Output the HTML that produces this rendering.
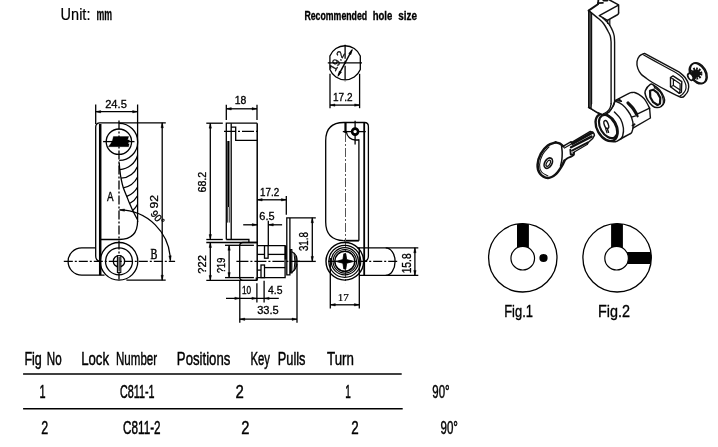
<!DOCTYPE html>
<html><head><meta charset="utf-8"><title>Cam lock C811 drawing</title>
<style>
html,body{margin:0;padding:0;background:#fff;}
body{width:718px;height:447px;overflow:hidden;font-family:"Liberation Sans",sans-serif;}
svg{display:block;will-change:transform;opacity:0.999;}
</style></head><body>
<svg width="718" height="447" viewBox="0 0 718 447" stroke="#000" fill="none" stroke-linecap="butt">
<rect x="0" y="0" width="718" height="447" fill="#fff" stroke="none"/>
<text transform="translate(61.70 20.10) rotate(0) scale(0.8852 1)" x="-1.23" y="0" font-size="16.38" font-family='"Liberation Sans", sans-serif' stroke="#000" stroke-width="0.2" vector-effect="non-scaling-stroke" fill="#000">Unit:</text>
<text transform="translate(97.00 20.10) rotate(0) scale(0.5455 1)" x="-1.05" y="0" font-size="16.11" font-family='"Liberation Sans", sans-serif' font-weight="bold" stroke="#000" stroke-width="0.25" vector-effect="non-scaling-stroke" fill="#000">mm</text>
<text transform="translate(305.00 20.30) rotate(0) scale(0.6635 1)" x="-0.86" y="0" font-size="13.19" font-family='"Liberation Sans", sans-serif' font-weight="bold" stroke="#000" stroke-width="0.3" vector-effect="non-scaling-stroke" fill="#000">Recommended</text>
<text transform="translate(373.30 20.30) rotate(0) scale(0.7232 1)" x="-0.92" y="0" font-size="13.19" font-family='"Liberation Sans", sans-serif' font-weight="bold" stroke="#000" stroke-width="0.3" vector-effect="non-scaling-stroke" fill="#000">hole</text>
<text transform="translate(398.60 20.30) rotate(0) scale(0.7541 1)" x="-0.46" y="0" font-size="13.19" font-family='"Liberation Sans", sans-serif' font-weight="bold" stroke="#000" stroke-width="0.3" vector-effect="non-scaling-stroke" fill="#000">size</text>
<text transform="translate(105.70 107.50) rotate(0) scale(0.9644 1)" x="-0.58" y="0" font-size="11.57" font-family='"Liberation Sans", sans-serif' stroke="#000" stroke-width="0.3" vector-effect="non-scaling-stroke" fill="#000">24.5</text>
<line x1="95.7" y1="104.5" x2="95.7" y2="124" stroke-width="1.3" />
<line x1="137.6" y1="104.5" x2="137.6" y2="222" stroke-width="1.3" />
<line x1="95.7" y1="111.7" x2="137.6" y2="111.7" stroke-width="1.3" />
<polygon points="95.70,111.70 100.70,110.50 100.70,112.90" fill="#000" stroke="#000" stroke-width="0.4"/>
<polygon points="137.60,111.70 132.60,112.90 132.60,110.50" fill="#000" stroke="#000" stroke-width="0.4"/>
<path d="M95.7 256 L95.7 127 Q95.7 122.8 100 122.8 L165.8 122.8" stroke-width="1.3" fill="none" />
<path d="M95.7 256 Q95.7 261 100.3 261.3" stroke-width="1.3" fill="none" />
<line x1="100.2" y1="124" x2="100.2" y2="275.2" stroke-width="2.5" />
<path d="M119.2 123.4 A18.4 18.4 0 0 1 119.2 160.4" stroke-width="1.3" fill="none" />
<path d="M101 239.5 L119.2 239.5 Q137.6 239.5 137.6 221" stroke-width="1.3" fill="none" />
<circle cx="118.9" cy="141.7" r="12.7" stroke-width="1.3" fill="none" />
<line x1="103.1" y1="141.6" x2="134.5" y2="141.6" stroke-width="1.3" />
<line x1="119" y1="120.5" x2="119" y2="281.5" stroke-width="1.3" stroke-dasharray="9 2 2 2"/>
<path d="M113.4 136.5 L128.7 136.5 L127.6 140 L129.6 140 L127.9 143.8 L129.2 143.8 L128.6 146.7 L108.4 146.7 L110.8 143.6 L112.4 140.5 Z" stroke-width="0.3" fill="#000" />
<path d="M119.2 163.0 C119.3 164.1 119.5 167.1 119.8 169.6 C120.1 172.1 120.4 175.2 121.0 178.2 C121.6 181.2 122.3 184.8 123.3 187.8 C124.3 190.8 125.8 193.8 126.8 196.4 C127.8 199.0 128.6 201.2 129.6 203.5 C130.6 205.8 131.8 208.6 132.7 210.5 C133.6 212.4 134.2 213.4 135.0 215.0 C135.8 216.6 137.2 219.2 137.6 220.0" stroke-width="1.3" fill="none" />
<path d="M119.8 169.6 A20 20 0 0 0 137.6 155.5" stroke-width="1.3" fill="none" />
<path d="M121 178.2 A20 20 0 0 0 137.6 166.4" stroke-width="1.3" fill="none" />
<path d="M123.3 187.8 A20 20 0 0 0 137.6 177" stroke-width="1.3" fill="none" />
<path d="M126.8 196.4 A20 20 0 0 0 137.6 187" stroke-width="1.3" fill="none" />
<path d="M129.6 203.5 A20 20 0 0 0 137.6 195.7" stroke-width="1.3" fill="none" />
<path d="M132.7 210.5 A20 20 0 0 0 137.6 204.3" stroke-width="1.3" fill="none" />
<text transform="translate(107.00 200.70) rotate(0) scale(0.7722 1)" x="-0.06" y="0" font-size="12.75" font-family='"Liberation Sans", sans-serif' stroke="#000" stroke-width="0.3" vector-effect="non-scaling-stroke" fill="#000">A</text>
<path d="M119.5 209.9 A51.4 51.4 0 0 1 170.4 260.5" stroke-width="1.3" fill="none" />
<polygon points="119.50,209.90 124.56,208.96 124.43,211.36" fill="#000" stroke="#000" stroke-width="0.4"/>
<polygon points="170.40,260.80 168.85,255.90 171.25,255.73" fill="#000" stroke="#000" stroke-width="0.4"/>
<circle cx="119" cy="261.3" r="18.8" stroke-width="1.3" fill="none" />
<circle cx="119" cy="261.3" r="13.5" stroke-width="1.3" fill="none" />
<circle cx="119" cy="261.3" r="5.7" stroke-width="1.3" fill="none" />
<rect x="117.4" y="255.7" width="3.4" height="16.9" fill="#fff" stroke="#000" stroke-width="1.1"/>
<line x1="119.1" y1="257" x2="119.1" y2="271.5" stroke-width="1.2" />
<path d="M95.7 247.9 L81.7 247.9 A13.6 13.6 0 0 0 81.7 275.1 L104.5 275.1" stroke-width="1.3" fill="none" />
<line x1="63.8" y1="261.3" x2="175.1" y2="261.3" stroke-width="1.3" stroke-dasharray="9 2 2 2"/>
<text transform="translate(150.90 258.80) rotate(0) scale(0.7054 1)" x="-0.44" y="0" font-size="14.66" font-family='"Liberation Serif", serif' stroke="#000" stroke-width="0.4" vector-effect="non-scaling-stroke" fill="#000">B</text>
<line x1="162.2" y1="122.8" x2="162.2" y2="280.2" stroke-width="1.3" />
<polygon points="162.20,122.80 163.40,127.80 161.00,127.80" fill="#000" stroke="#000" stroke-width="0.4"/>
<polygon points="162.20,280.20 161.00,275.20 163.40,275.20" fill="#000" stroke="#000" stroke-width="0.4"/>
<line x1="126.4" y1="280.2" x2="165.7" y2="280.2" stroke-width="1.3" />
<text transform="translate(157.90 208.00) rotate(-90) scale(1.0473 1)" x="-0.52" y="0" font-size="11.57" font-family='"Liberation Sans", sans-serif' stroke="#000" stroke-width="0.3" vector-effect="non-scaling-stroke" fill="#000">92</text>
<text transform="translate(150.30 214.40) rotate(50) scale(0.9555 1)" x="-0.47" y="0" font-size="10.43" font-family='"Liberation Sans", sans-serif' stroke="#000" stroke-width="0.3" vector-effect="non-scaling-stroke" fill="#000">90°</text>
<text transform="translate(235.40 103.80) rotate(0) scale(1.0023 1)" x="-0.78" y="0" font-size="10.43" font-family='"Liberation Sans", sans-serif' stroke="#000" stroke-width="0.3" vector-effect="non-scaling-stroke" fill="#000">18</text>
<line x1="226.3" y1="104.8" x2="226.3" y2="120" stroke-width="1.3" />
<line x1="257" y1="104.8" x2="257" y2="120" stroke-width="1.3" />
<line x1="226.3" y1="108.8" x2="257" y2="108.8" stroke-width="1.3" />
<polygon points="226.30,108.80 231.30,107.60 231.30,110.00" fill="#000" stroke="#000" stroke-width="0.4"/>
<polygon points="257.00,108.80 252.00,110.00 252.00,107.60" fill="#000" stroke="#000" stroke-width="0.4"/>
<path d="M226.3 239.5 L226.3 123.2 L257.2 123.2" stroke-width="1.3" fill="none" />
<line x1="257.2" y1="123.2" x2="257.2" y2="280.4" stroke-width="1.5" />
<line x1="231.2" y1="123.2" x2="231.2" y2="239.5" stroke-width="1.3" />
<path d="M231.2 127.2 L235.7 127.2 L235.7 140.4 L257.2 140.4" stroke-width="1.3" fill="none" />
<line x1="224" y1="131.4" x2="259.2" y2="131.4" stroke-width="1.3" stroke-dasharray="12 2 2 2"/>
<line x1="228.4" y1="141" x2="228.4" y2="207" stroke-width="2.2" />
<line x1="227.6" y1="207" x2="227.6" y2="222.6" stroke-width="0.8" />
<line x1="229.3" y1="207" x2="229.3" y2="222.6" stroke-width="0.8" />
<path d="M226.3 239.5 L248.9 239.5 L248.9 242.5" stroke-width="1.3" fill="none" />
<line x1="206.3" y1="123.2" x2="222.8" y2="123.2" stroke-width="1.3" />
<line x1="206.3" y1="239.5" x2="222.8" y2="239.5" stroke-width="1.3" />
<line x1="210.3" y1="123.2" x2="210.3" y2="239.5" stroke-width="1.3" />
<polygon points="210.30,123.20 211.50,128.20 209.10,128.20" fill="#000" stroke="#000" stroke-width="0.4"/>
<polygon points="210.30,239.50 209.10,234.50 211.50,234.50" fill="#000" stroke="#000" stroke-width="0.4"/>
<text transform="translate(206.00 192.00) rotate(-90) scale(0.9461 1)" x="-0.56" y="0" font-size="11.29" font-family='"Liberation Sans", sans-serif' stroke="#000" stroke-width="0.3" vector-effect="non-scaling-stroke" fill="#000">68.2</text>
<line x1="206.3" y1="242.5" x2="257.2" y2="242.5" stroke-width="1.3" />
<line x1="206.3" y1="280.4" x2="257.2" y2="280.4" stroke-width="1.3" />
<line x1="210.3" y1="242.5" x2="210.3" y2="280.4" stroke-width="1.3" />
<polygon points="210.30,242.50 211.50,247.50 209.10,247.50" fill="#000" stroke="#000" stroke-width="0.4"/>
<polygon points="210.30,280.40 209.10,275.40 211.50,275.40" fill="#000" stroke="#000" stroke-width="0.4"/>
<text transform="translate(206.00 273.20) rotate(-90) scale(0.9845 1)" x="-0.45" y="0" font-size="11.29" font-family='"Liberation Sans", sans-serif' stroke="#000" stroke-width="0.3" vector-effect="non-scaling-stroke" fill="#000">?22</text>
<line x1="225" y1="245.3" x2="253.9" y2="245.3" stroke-width="1.3" />
<line x1="225" y1="277.6" x2="253.9" y2="277.6" stroke-width="1.3" />
<line x1="229.1" y1="245.3" x2="229.1" y2="277.6" stroke-width="1.3" />
<polygon points="229.10,245.30 230.30,250.30 227.90,250.30" fill="#000" stroke="#000" stroke-width="0.4"/>
<polygon points="229.10,277.60 227.90,272.60 230.30,272.60" fill="#000" stroke="#000" stroke-width="0.4"/>
<text transform="translate(225.00 272.60) rotate(-90) scale(0.7876 1)" x="-0.46" y="0" font-size="11.57" font-family='"Liberation Sans", sans-serif' stroke="#000" stroke-width="0.3" vector-effect="non-scaling-stroke" fill="#000">?19</text>
<path d="M257.2 242.5 L243 242.5 Q239.7 242.5 239.7 246 L239.7 277 Q239.7 280.4 243 280.4 L256.3 280.4 L256.3 277.6" stroke-width="1.3" fill="none" />
<line x1="236.4" y1="261.3" x2="300" y2="261.3" stroke-width="1.3" stroke-dasharray="12 2 2 2"/>
<path d="M257.2 245.7 L285.1 245.7 L285.1 277.6 L257.2 277.6" stroke-width="1.3" fill="none" />
<line x1="285.7" y1="245.7" x2="285.7" y2="259.5" stroke-width="2.0" />
<line x1="257.2" y1="254.4" x2="264.5" y2="254.4" stroke-width="1.3" />
<rect x="264.5" y="245.7" width="3.6" height="12.5" fill="#fff" stroke="#000" stroke-width="1.3"/>
<line x1="268" y1="254.4" x2="285.1" y2="254.4" stroke-width="1.3" />
<line x1="264.5" y1="267.6" x2="285.1" y2="267.6" stroke-width="1.3" />
<rect x="261" y="265" width="3.5" height="12.6" fill="#fff" stroke="#000" stroke-width="1.3"/>
<line x1="257.2" y1="270.1" x2="261" y2="270.1" stroke-width="1.3" />
<text transform="translate(260.80 195.70) rotate(0) scale(0.9562 1)" x="-0.77" y="0" font-size="10.29" font-family='"Liberation Sans", sans-serif' stroke="#000" stroke-width="0.3" vector-effect="non-scaling-stroke" fill="#000">17.2</text>
<line x1="257.2" y1="199.8" x2="286.3" y2="199.8" stroke-width="1.3" />
<polygon points="257.20,199.80 262.20,198.60 262.20,201.00" fill="#000" stroke="#000" stroke-width="0.4"/>
<polygon points="286.30,199.80 281.30,201.00 281.30,198.60" fill="#000" stroke="#000" stroke-width="0.4"/>
<line x1="286.3" y1="196" x2="286.3" y2="214.8" stroke-width="1.3" />
<text transform="translate(259.90 220.30) rotate(0) scale(1.0845 1)" x="-0.51" y="0" font-size="10.14" font-family='"Liberation Sans", sans-serif' stroke="#000" stroke-width="0.3" vector-effect="non-scaling-stroke" fill="#000">6.5</text>
<line x1="243.2" y1="224.8" x2="257.2" y2="224.8" stroke-width="1.3" />
<polygon points="257.20,224.80 252.20,226.00 252.20,223.60" fill="#000" stroke="#000" stroke-width="0.4"/>
<line x1="268.3" y1="224.8" x2="282.1" y2="224.8" stroke-width="1.3" />
<polygon points="268.30,224.80 273.30,223.60 273.30,226.00" fill="#000" stroke="#000" stroke-width="0.4"/>
<line x1="268.3" y1="220.7" x2="268.3" y2="245.7" stroke-width="1.3" />
<path d="M315.8 217.8 L286.8 217.8 L286.8 274.8 L289.9 274.8 L289.9 217.8" stroke-width="1.3" fill="none" />
<line x1="312.3" y1="217.8" x2="312.3" y2="261.4" stroke-width="1.3" />
<polygon points="312.30,217.80 313.50,222.80 311.10,222.80" fill="#000" stroke="#000" stroke-width="0.4"/>
<polygon points="312.30,261.40 311.10,256.40 313.50,256.40" fill="#000" stroke="#000" stroke-width="0.4"/>
<text transform="translate(308.30 250.70) rotate(-90) scale(0.8132 1)" x="-0.48" y="0" font-size="12.00" font-family='"Liberation Sans", sans-serif' stroke="#000" stroke-width="0.3" vector-effect="non-scaling-stroke" fill="#000">31.8</text>
<line x1="297" y1="261.4" x2="315.8" y2="261.4" stroke-width="1.3" />
<path d="M289.9 249.5 L291.8 249.5 L291.8 273 L289.9 273" stroke-width="1.2" fill="none" />
<line x1="290.6" y1="249.5" x2="290.6" y2="273" stroke-width="1.4" />
<path d="M291.8 251.8 Q295.5 253.5 296.6 257 Q297.6 261.3 296.6 266 Q295.5 269.5 291.8 272.5" stroke-width="1.2" fill="none" />
<path d="M294 252.6 Q295.8 261.5 294 270.6" stroke-width="1.0" fill="none" />
<path d="M296 256 L296 267" stroke-width="1.4" fill="none" />
<line x1="239.8" y1="280.4" x2="239.8" y2="322.8" stroke-width="1.3" />
<line x1="297" y1="263.8" x2="297" y2="322.8" stroke-width="1.3" />
<line x1="226" y1="298.4" x2="278.8" y2="298.4" stroke-width="1.3" />
<polygon points="239.80,298.40 234.80,299.60 234.80,297.20" fill="#000" stroke="#000" stroke-width="0.4"/>
<polygon points="256.90,298.40 251.90,299.60 251.90,297.20" fill="#000" stroke="#000" stroke-width="0.4"/>
<polygon points="264.10,298.40 269.10,297.20 269.10,299.60" fill="#000" stroke="#000" stroke-width="0.4"/>
<line x1="256.9" y1="283.2" x2="256.9" y2="302.6" stroke-width="1.3" />
<line x1="264.1" y1="280.7" x2="264.1" y2="302.6" stroke-width="1.3" />
<text transform="translate(242.50 293.80) rotate(0) scale(0.7692 1)" x="-0.80" y="0" font-size="10.71" font-family='"Liberation Sans", sans-serif' stroke="#000" stroke-width="0.3" vector-effect="non-scaling-stroke" fill="#000">10</text>
<text transform="translate(268.20 293.80) rotate(0) scale(0.9582 1)" x="-0.27" y="0" font-size="10.87" font-family='"Liberation Sans", sans-serif' stroke="#000" stroke-width="0.3" vector-effect="non-scaling-stroke" fill="#000">4.5</text>
<line x1="239.8" y1="319.2" x2="297" y2="319.2" stroke-width="1.3" />
<polygon points="239.80,319.20 244.80,318.00 244.80,320.40" fill="#000" stroke="#000" stroke-width="0.4"/>
<polygon points="297.00,319.20 292.00,320.40 292.00,318.00" fill="#000" stroke="#000" stroke-width="0.4"/>
<text transform="translate(257.60 314.40) rotate(0) scale(1.0943 1)" x="-0.41" y="0" font-size="10.14" font-family='"Liberation Sans", sans-serif' stroke="#000" stroke-width="0.3" vector-effect="non-scaling-stroke" fill="#000">33.5</text>
<path d="M329.9 56 A16.4 16.4 0 0 1 360.3 56 L360.3 69.6 A16.4 16.4 0 0 1 329.9 69.6 Z" stroke-width="1.3" fill="none" />
<line x1="327.8" y1="62.8" x2="362" y2="62.8" stroke-width="1.3" />
<line x1="345.1" y1="44.8" x2="345.1" y2="82" stroke-width="1.3" stroke-dasharray="14 2 3 2"/>
<line x1="352" y1="50" x2="338.2" y2="75.7" stroke-width="1.5" />
<polygon points="352.40,49.20 350.95,54.66 348.66,53.43" fill="#000" stroke="#000" stroke-width="0.4"/>
<polygon points="337.80,76.50 339.25,71.04 341.54,72.27" fill="#000" stroke="#000" stroke-width="0.4"/>
<text transform="translate(335.60 71.20) rotate(-61.8) scale(1.0000 1)" x="-0.80" y="0" font-size="10.71" font-family='"Liberation Sans", sans-serif' stroke="#000" stroke-width="0.3" vector-effect="non-scaling-stroke" fill="#000">19.2</text>
<line x1="330" y1="73.8" x2="330" y2="108.2" stroke-width="1.3" />
<line x1="359.6" y1="73.8" x2="359.6" y2="108.2" stroke-width="1.3" />
<line x1="330" y1="105.1" x2="359.6" y2="105.1" stroke-width="1.3" />
<polygon points="330.00,105.10 335.00,103.90 335.00,106.30" fill="#000" stroke="#000" stroke-width="0.4"/>
<polygon points="359.60,105.10 354.60,106.30 354.60,103.90" fill="#000" stroke="#000" stroke-width="0.4"/>
<text transform="translate(333.80 100.70) rotate(0) scale(0.9333 1)" x="-0.80" y="0" font-size="10.71" font-family='"Liberation Sans", sans-serif' stroke="#000" stroke-width="0.3" vector-effect="non-scaling-stroke" fill="#000">17.2</text>
<path d="M343.8 240.7 Q325.7 240 325.7 222 L325.7 140.7 Q325.7 122.5 343.8 122.5 L364.5 122.5 Q368.4 122.5 368.4 126.5 L368.4 256 Q368.4 261 364 261.3" stroke-width="1.3" fill="none" />
<line x1="364.2" y1="123" x2="364.2" y2="275.4" stroke-width="1.8" />
<path d="M343.8 240.7 L358.9 240.7" stroke-width="1.8" fill="none" />
<line x1="358.9" y1="139.3" x2="358.9" y2="240.7" stroke-width="1.3" />
<path d="M346.4 132 A9 9 0 0 0 355.5 140 L358.9 140" stroke-width="1.3" fill="none" />
<line x1="345.5" y1="133" x2="345.5" y2="283.1" stroke-width="1.0" stroke="#555" stroke-dasharray="9 2 2 2"/>
<line x1="345.5" y1="122.5" x2="345.5" y2="133" stroke-width="2.2" />
<line x1="342.8" y1="131.6" x2="365.8" y2="131.6" stroke-width="1.3" />
<line x1="355.1" y1="120.7" x2="355.1" y2="144.5" stroke-width="1.3" />
<circle cx="355.1" cy="131.6" r="3" stroke-width="2.6" fill="#fff" />
<circle cx="344.8" cy="261.3" r="18.8" stroke-width="1.4" fill="none" />
<circle cx="344.8" cy="261.3" r="16.0" stroke-width="1.2" fill="none" />
<circle cx="344.8" cy="261.3" r="13.6" stroke-width="1.2" fill="none" />
<circle cx="344.8" cy="261.3" r="11.8" stroke-width="1.1" fill="none" />
<circle cx="344.8" cy="261.3" r="10.0" stroke-width="1.5" fill="none" />
<path d="M335.8 261.4 L342.9 259.6 L343.8 253.8 L345.8 253.8 L346.7 259.6 L353.8 261.4 L346.7 263.2 L345.8 269 L343.8 269 L342.9 263.2 Z" stroke-width="0.8" fill="#000" />
<line x1="328.2" y1="261.3" x2="398.9" y2="261.3" stroke-width="1.3" stroke-dasharray="9 2 2 2"/>
<path d="M357 247.8 L385.7 247.8 A9.4 13.8 0 0 1 385.7 275.4 L359.3 275.4" stroke-width="1.3" fill="none" />
<line x1="385.7" y1="247.8" x2="418.3" y2="247.8" stroke-width="1.3" />
<line x1="385.7" y1="275.4" x2="418.3" y2="275.4" stroke-width="1.3" />
<line x1="414.9" y1="247.8" x2="414.9" y2="275.4" stroke-width="1.3" />
<polygon points="414.90,247.80 416.10,252.80 413.70,252.80" fill="#000" stroke="#000" stroke-width="0.4"/>
<polygon points="414.90,275.40 413.70,270.40 416.10,270.40" fill="#000" stroke="#000" stroke-width="0.4"/>
<text transform="translate(410.80 272.60) rotate(-90) scale(0.8172 1)" x="-0.94" y="0" font-size="12.57" font-family='"Liberation Sans", sans-serif' stroke="#000" stroke-width="0.3" vector-effect="non-scaling-stroke" fill="#000">15.8</text>
<line x1="330.3" y1="258" x2="330.3" y2="308.6" stroke-width="1.3" />
<line x1="359.3" y1="247.8" x2="359.3" y2="308.6" stroke-width="1.3" />
<line x1="330.3" y1="304.8" x2="359.3" y2="304.8" stroke-width="1.3" />
<polygon points="330.30,304.80 335.30,303.60 335.30,306.00" fill="#000" stroke="#000" stroke-width="0.4"/>
<polygon points="359.30,304.80 354.30,306.00 354.30,303.60" fill="#000" stroke="#000" stroke-width="0.4"/>
<text transform="translate(338.80 300.70) rotate(0) scale(0.9800 1)" x="-1.02" y="0" font-size="11.36" font-family='"Liberation Serif", serif' stroke="#000" stroke-width="0.2" vector-effect="non-scaling-stroke" fill="#000">17</text>
<clipPath id="c1"><circle cx="522.8" cy="257.8" r="34.2"/></clipPath><clipPath id="c2"><circle cx="617.1" cy="257.8" r="34.2"/></clipPath>
<circle cx="522.8" cy="257.8" r="34.2" stroke-width="1.3" fill="none" />
<rect x="517" y="222" width="11.9" height="27" fill="#000" stroke="none" clip-path="url(#c1)"/>
<circle cx="522.75" cy="258.2" r="11.8" stroke-width="1.2" fill="#fff" />
<circle cx="543.5" cy="258" r="4.1" stroke-width="0" fill="#000" stroke="none"/>
<circle cx="617.1" cy="257.8" r="34.2" stroke-width="1.3" fill="none" />
<rect x="611.1" y="222" width="11.8" height="27" fill="#000" stroke="none" clip-path="url(#c2)"/>
<rect x="626" y="252" width="27" height="12" fill="#000" stroke="none" clip-path="url(#c2)"/>
<circle cx="616.6" cy="258.2" r="11.8" stroke-width="1.2" fill="#fff" />
<text transform="translate(505.20 316.60) rotate(0) scale(0.8208 1)" x="-1.26" y="0" font-size="15.80" font-family='"Liberation Sans", sans-serif' stroke="#000" stroke-width="0.3" vector-effect="non-scaling-stroke" fill="#000">Fig.1</text>
<text transform="translate(599.20 316.60) rotate(0) scale(0.9117 1)" x="-1.26" y="0" font-size="15.80" font-family='"Liberation Sans", sans-serif' stroke="#000" stroke-width="0.3" vector-effect="non-scaling-stroke" fill="#000">Fig.2</text>
<text transform="translate(25.40 364.80) rotate(0) scale(0.6600 1)" x="-1.52" y="0" font-size="18.99" font-family='"Liberation Sans", sans-serif' stroke="#000" stroke-width="0.4" vector-effect="non-scaling-stroke" fill="#000">Fig</text>
<text transform="translate(47.70 364.80) rotate(0) scale(0.6111 1)" x="-1.52" y="0" font-size="18.99" font-family='"Liberation Sans", sans-serif' stroke="#000" stroke-width="0.4" vector-effect="non-scaling-stroke" fill="#000">No</text>
<text transform="translate(82.20 364.80) rotate(0) scale(0.6954 1)" x="-1.52" y="0" font-size="18.99" font-family='"Liberation Sans", sans-serif' stroke="#000" stroke-width="0.4" vector-effect="non-scaling-stroke" fill="#000">Lock</text>
<text transform="translate(116.90 364.80) rotate(0) scale(0.6089 1)" x="-1.52" y="0" font-size="18.99" font-family='"Liberation Sans", sans-serif' stroke="#000" stroke-width="0.4" vector-effect="non-scaling-stroke" fill="#000">Number</text>
<text transform="translate(177.90 364.80) rotate(0) scale(0.6943 1)" x="-1.52" y="0" font-size="18.99" font-family='"Liberation Sans", sans-serif' stroke="#000" stroke-width="0.4" vector-effect="non-scaling-stroke" fill="#000">Positions</text>
<text transform="translate(251.30 364.80) rotate(0) scale(0.5974 1)" x="-1.52" y="0" font-size="18.99" font-family='"Liberation Sans", sans-serif' stroke="#000" stroke-width="0.4" vector-effect="non-scaling-stroke" fill="#000">Key</text>
<text transform="translate(278.80 364.80) rotate(0) scale(0.6741 1)" x="-1.52" y="0" font-size="18.99" font-family='"Liberation Sans", sans-serif' stroke="#000" stroke-width="0.4" vector-effect="non-scaling-stroke" fill="#000">Pulls</text>
<text transform="translate(327.40 364.80) rotate(0) scale(0.7014 1)" x="-0.47" y="0" font-size="18.99" font-family='"Liberation Sans", sans-serif' stroke="#000" stroke-width="0.4" vector-effect="non-scaling-stroke" fill="#000">Turn</text>
<line x1="23.1" y1="374.1" x2="401.7" y2="374.1" stroke-width="1.5" />
<line x1="23.1" y1="408.8" x2="402.7" y2="408.8" stroke-width="1.5" />
<text transform="translate(40.20 397.60) rotate(0) scale(0.5757 1)" x="-1.42" y="0" font-size="18.99" font-family='"Liberation Sans", sans-serif' stroke="#000" stroke-width="0.4" vector-effect="non-scaling-stroke" fill="#000">1</text>
<text transform="translate(120.50 397.60) rotate(0) scale(0.5765 1)" x="-0.94" y="0" font-size="18.71" font-family='"Liberation Sans", sans-serif' stroke="#000" stroke-width="0.4" vector-effect="non-scaling-stroke" fill="#000">C811-1</text>
<text transform="translate(236.30 397.60) rotate(0) scale(0.7986 1)" x="-0.94" y="0" font-size="18.71" font-family='"Liberation Sans", sans-serif' stroke="#000" stroke-width="0.4" vector-effect="non-scaling-stroke" fill="#000">2</text>
<text transform="translate(345.90 397.60) rotate(0) scale(0.5267 1)" x="-1.42" y="0" font-size="18.99" font-family='"Liberation Sans", sans-serif' stroke="#000" stroke-width="0.4" vector-effect="non-scaling-stroke" fill="#000">1</text>
<text transform="translate(432.80 397.60) rotate(0) scale(0.6123 1)" x="-0.84" y="0" font-size="18.71" font-family='"Liberation Sans", sans-serif' stroke="#000" stroke-width="0.4" vector-effect="non-scaling-stroke" fill="#000">90°</text>
<text transform="translate(41.80 433.90) rotate(0) scale(0.6798 1)" x="-0.92" y="0" font-size="18.43" font-family='"Liberation Sans", sans-serif' stroke="#000" stroke-width="0.4" vector-effect="non-scaling-stroke" fill="#000">2</text>
<text transform="translate(123.60 433.90) rotate(0) scale(0.6361 1)" x="-0.92" y="0" font-size="18.43" font-family='"Liberation Sans", sans-serif' stroke="#000" stroke-width="0.4" vector-effect="non-scaling-stroke" fill="#000">C811-2</text>
<text transform="translate(241.90 433.90) rotate(0) scale(0.7990 1)" x="-0.92" y="0" font-size="18.43" font-family='"Liberation Sans", sans-serif' stroke="#000" stroke-width="0.4" vector-effect="non-scaling-stroke" fill="#000">2</text>
<text transform="translate(351.90 433.90) rotate(0) scale(0.7275 1)" x="-0.92" y="0" font-size="18.43" font-family='"Liberation Sans", sans-serif' stroke="#000" stroke-width="0.4" vector-effect="non-scaling-stroke" fill="#000">2</text>
<text transform="translate(441.00 433.90) rotate(0) scale(0.6257 1)" x="-0.83" y="0" font-size="18.43" font-family='"Liberation Sans", sans-serif' stroke="#000" stroke-width="0.4" vector-effect="non-scaling-stroke" fill="#000">90°</text>
<g id="iso">
<path d="M588.6 10.6 L588.6 107.3 L591.6 109.0 L591.6 13.0 Z" stroke="#111" stroke-width="1.2" fill="#444" stroke-linejoin="round" stroke-linecap="round"/>
<path d="M588.6 10.6 L597.9 4.2" stroke="#111" stroke-width="2.0" fill="none" stroke-linejoin="round" stroke-linecap="round"/>
<path d="M597.9 4.2 L598.4 0.0" stroke="#111" stroke-width="1.8" fill="none" stroke-linejoin="round" stroke-linecap="round"/>
<path d="M597.9 3.2 L602.9 2.8" stroke="#111" stroke-width="1.8" fill="none" stroke-linejoin="round" stroke-linecap="round"/>
<path d="M603.5 0.3 L607.4 0.3" stroke="#111" stroke-width="2.2" fill="none" stroke-linejoin="round" stroke-linecap="round"/>
<path d="M609.6 0.0 L618.6 4.8 L618.6 12.9" stroke="#111" stroke-width="1.5" fill="none" stroke-linejoin="round" stroke-linecap="round"/>
<path d="M618.6 12.9 Q618.6 14 617 15 L607.4 20.3" stroke="#111" stroke-width="1.5" fill="none" stroke-linejoin="round" stroke-linecap="round"/>
<path d="M618.0 5.3 L599.3 15.7 L607.4 20.3" stroke="#111" stroke-width="1.5" fill="none" stroke-linejoin="round" stroke-linecap="round"/>
<path d="M607.7 20.7 L607.7 23.5" stroke="#111" stroke-width="1.2" fill="none" stroke-linejoin="round" stroke-linecap="round"/>
<path d="M609.8 19.6 L609.8 25.5" stroke="#111" stroke-width="1.2" fill="none" stroke-linejoin="round" stroke-linecap="round"/>
<path d="M588.6 10.6 C590.2 11.9 595.9 16.4 598.4 18.5 C600.9 20.6 601.9 21.4 603.5 23.5 C605.1 25.6 606.8 28.9 607.9 31.0 C609.0 33.1 609.8 34.2 610.3 36.0 C610.8 37.8 611.0 41.0 611.1 42.0 L611.1 104" stroke="#111" stroke-width="1.4" fill="none" stroke-linejoin="round" stroke-linecap="round"/>
<path d="M602.9 17.9 C603.6 18.6 606.2 21.1 607.4 22.4 C608.6 23.7 609.2 24.4 610.1 25.8 C611.0 27.2 612.0 29.3 612.7 31.0 C613.4 32.7 613.9 34.2 614.2 36.0 C614.5 37.8 614.5 41.0 614.6 42.0 L614.6 102" stroke="#111" stroke-width="1.4" fill="none" stroke-linejoin="round" stroke-linecap="round"/>
<path d="M588.6 107.3 C589.9 108.0 593.8 110.6 596.2 111.8 C598.6 113.0 600.8 114.6 602.9 114.6 C605.0 114.6 607.3 113.2 609.0 111.8 C610.7 110.4 612.1 107.8 613.0 106.2 C613.9 104.6 614.3 102.7 614.6 102.0" stroke="#111" stroke-width="1.5" fill="none" stroke-linejoin="round" stroke-linecap="round"/>
<path d="M611.1 104.0 C610.9 104.7 610.6 106.7 610.0 108.0 C609.4 109.3 608.5 110.6 607.4 111.6 C606.3 112.6 604.1 113.4 603.5 113.8" stroke="#111" stroke-width="1.3" fill="none" stroke-linejoin="round" stroke-linecap="round"/>
<ellipse cx="606.5" cy="127.5" rx="9.4" ry="14.7" transform="rotate(-30 606.5 127.5)" stroke="#111" stroke-width="2.4000000000000004" fill="#fff"/>
<path d="M591.6 109.0 C592.4 109.5 594.3 110.9 596.2 111.8 C598.1 112.7 600.8 114.6 602.9 114.6 C605.0 114.6 607.3 113.2 609.0 111.8 C610.7 110.4 612.3 107.1 613.0 106.2 L611 104 L592 104 Z" stroke="none" stroke-width="0" fill="#fff" stroke-linejoin="round" stroke-linecap="round"/>
<path d="M588.6 107.3 C589.9 108.0 593.8 110.6 596.2 111.8 C598.6 113.0 600.8 114.6 602.9 114.6 C605.0 114.6 607.3 113.2 609.0 111.8 C610.7 110.4 612.1 107.8 613.0 106.2 C613.9 104.6 614.3 102.7 614.6 102.0" stroke="#111" stroke-width="1.5" fill="none" stroke-linejoin="round" stroke-linecap="round"/>
<path d="M611.1 104.0 C610.9 104.7 610.6 106.7 610.0 108.0 C609.4 109.3 608.5 110.6 607.4 111.6 C606.3 112.6 604.1 113.4 603.5 113.8" stroke="#111" stroke-width="1.3" fill="none" stroke-linejoin="round" stroke-linecap="round"/>
<ellipse cx="608.3" cy="126.5" rx="8.0" ry="12.6" transform="rotate(-30 608.3 126.5)" stroke="#111" stroke-width="2.2" fill="none"/>
<ellipse cx="606.3" cy="124.6" rx="2.0" ry="4.2" transform="rotate(-20 606.3 124.6)" stroke="#111" stroke-width="1.4" fill="none"/>
<path d="M607.2 128.3 L608.6 132.4" stroke="#111" stroke-width="1.4" fill="none" stroke-linejoin="round" stroke-linecap="round"/>
<path d="M605.6 128.6 L607.0 132.8" stroke="#111" stroke-width="1.2" fill="none" stroke-linejoin="round" stroke-linecap="round"/>
<path d="M614.4 112.0 C615.4 113.2 619.1 116.3 620.6 119.0 C622.1 121.7 623.0 125.2 623.4 128.0 C623.8 130.8 623.2 133.8 622.7 135.7 C622.2 137.6 621.0 138.6 620.6 139.2" stroke="#111" stroke-width="1.4" fill="none" stroke-linejoin="round" stroke-linecap="round"/>
<path d="M611.0 141.3 C611.8 141.4 614.3 142.1 616.0 141.6 C617.7 141.1 618.9 139.8 621.3 138.5 C623.7 137.2 628.9 134.4 630.4 133.6" stroke="#111" stroke-width="1.5" fill="none" stroke-linejoin="round" stroke-linecap="round"/>
<path d="M614.7 100.9 C616.0 101.5 620.2 103.0 622.4 104.7 C624.6 106.4 626.5 108.9 628.0 111.0 C629.5 113.1 630.6 114.7 631.5 117.2 C632.4 119.7 633.2 123.4 633.2 125.9 C633.2 128.4 632.3 130.9 631.8 132.2 C631.3 133.5 630.6 133.4 630.4 133.6" stroke="#111" stroke-width="1.4" fill="none" stroke-linejoin="round" stroke-linecap="round"/>
<path d="M614.7 100.9 C617.2 99.6 626.6 94.6 629.5 93.2 C632.4 91.8 631.1 92.6 632.0 92.5 C632.9 92.4 633.5 92.2 634.6 92.5 C635.7 92.8 636.8 93.2 638.4 94.2 C640.0 95.2 642.5 97.0 644.0 98.6 C645.5 100.2 646.6 102.4 647.5 104.0 C648.4 105.6 649.2 107.5 649.6 108.2" stroke="#111" stroke-width="1.4" fill="none" stroke-linejoin="round" stroke-linecap="round"/>
<path d="M616.0 100.6 L621.5 101.3 L619.0 99.0" stroke="#111" stroke-width="1.2" fill="#111" stroke-linejoin="round" stroke-linecap="round"/>
<path d="M649.6 108.2 L650.4 118.0 L632.9 128.2" stroke="#111" stroke-width="1.4" fill="none" stroke-linejoin="round" stroke-linecap="round"/>
<path d="M649.6 108.2 L637.7 113.8" stroke="#111" stroke-width="1.4" fill="none" stroke-linejoin="round" stroke-linecap="round"/>
<path d="M631.5 117.2 L635.6 115.9" stroke="#111" stroke-width="1.3" fill="none" stroke-linejoin="round" stroke-linecap="round"/>
<path d="M636.5 113.5 L637.6 116.3" stroke="#111" stroke-width="2.2" fill="none" stroke-linejoin="round" stroke-linecap="round"/>
<path d="M628.0 103.0 C628.8 103.9 631.5 106.4 632.9 108.2 C634.3 110.0 635.7 112.9 636.3 113.8" stroke="#111" stroke-width="3.2" fill="none" stroke-linejoin="round" stroke-linecap="round"/>
<path d="M632.6 125.5 L634.5 124.3" stroke="#111" stroke-width="2.0" fill="none" stroke-linejoin="round" stroke-linecap="round"/>
<path d="M555.6 142.4 C554.3 142.9 550.2 143.5 547.8 145.4 C545.3 147.3 542.6 150.5 540.9 153.7 C539.2 156.9 537.8 161.3 537.6 164.6 C537.4 167.9 538.2 171.2 539.9 173.4 C541.6 175.6 545.2 177.7 547.8 177.9 C550.4 178.1 553.3 176.3 555.6 174.4 C557.9 172.5 560.0 168.8 561.5 166.5 C563.0 164.2 564.0 161.6 564.5 160.6" stroke="#111" stroke-width="2.5" fill="none" stroke-linejoin="round" stroke-linecap="round"/>
<path d="M564.5 160.6 C565.0 160.2 566.2 158.9 567.4 158.2 C568.6 157.5 570.8 156.8 571.9 156.2 C573.0 155.6 573.5 154.9 573.8 154.7" stroke="#111" stroke-width="1.8" fill="none" stroke-linejoin="round" stroke-linecap="round"/>
<path d="M555.6 142.4 C556.3 142.6 558.7 142.9 560.0 143.6 C561.3 144.3 562.8 145.9 563.4 146.4" stroke="#111" stroke-width="2.4000000000000004" fill="none" stroke-linejoin="round" stroke-linecap="round"/>
<path d="M549.0 146.8 C547.9 148.1 544.2 151.5 542.6 154.5 C541.0 157.5 539.8 161.7 539.6 164.6 C539.4 167.5 540.2 170.1 541.6 172.0 C543.0 173.9 546.8 175.2 547.8 175.8" stroke="#111" stroke-width="1.1" fill="none" stroke-linejoin="round" stroke-linecap="round"/>
<path d="M561.6 146.4 C561.7 147.5 562.2 150.7 562.2 153.0 C562.2 155.3 562.1 157.8 561.8 160.0 C561.5 162.2 560.7 165.0 560.5 166.0" stroke="#111" stroke-width="1.5" fill="none" stroke-linejoin="round" stroke-linecap="round"/>
<ellipse cx="548.3" cy="163.1" rx="3.6" ry="5.6" transform="rotate(30 548.3 163.1)" stroke="#111" stroke-width="1.7" fill="none"/>
<ellipse cx="548.3" cy="163.3" rx="1.7" ry="3.4" transform="rotate(30 548.3 163.3)" stroke="#111" stroke-width="1.2" fill="none"/>
<path d="M563.4 146.2 L571.2 141.7 L571.6 143.6" stroke="#111" stroke-width="1.5" fill="none" stroke-linejoin="round" stroke-linecap="round"/>
<path d="M564.4 148.0 L571.0 144.2" stroke="#111" stroke-width="1.2" fill="none" stroke-linejoin="round" stroke-linecap="round"/>
<path d="M572.2 142.2 L590.4 131.4 L593.9 133.4 L594.4 135.3 L592.4 138.8 L588.5 142.2 L587.5 143.7" stroke="#111" stroke-width="1.5" fill="none" stroke-linejoin="round" stroke-linecap="round"/>
<path d="M572.6 143.6 L592.5 132.6" stroke="#111" stroke-width="2.8000000000000003" fill="none" stroke-linejoin="round" stroke-linecap="round"/>
<path d="M571.0 147.2 L591.5 136.6" stroke="#111" stroke-width="2.4000000000000004" fill="none" stroke-linejoin="round" stroke-linecap="round"/>
<path d="M572.0 150.6 L588.0 142.4" stroke="#111" stroke-width="1.8" fill="none" stroke-linejoin="round" stroke-linecap="round"/>
<path d="M573.0 152.8 L587.5 144.2" stroke="#111" stroke-width="1.2" fill="none" stroke-linejoin="round" stroke-linecap="round"/>
<path d="M570.3 149.6 L570.7 154.5 L573.7 154.5 L574.2 152.6" stroke="#111" stroke-width="1.8" fill="none" stroke-linejoin="round" stroke-linecap="round"/>
<path d="M644.5 53.4 C643.7 53.8 640.8 54.5 639.5 55.9 C638.2 57.3 637.3 59.6 637.0 61.7 C636.7 63.8 637.1 66.3 637.8 68.4 C638.5 70.5 639.9 72.7 641.2 74.2 C642.5 75.7 643.5 76.2 645.4 77.6 C647.3 79.0 648.8 80.3 652.5 82.5 C656.2 84.7 662.9 88.5 667.6 90.9 C672.3 93.4 678.0 96.5 680.9 97.2 C683.8 97.9 683.9 96.1 685.1 95.1 C686.3 94.0 687.4 92.7 688.0 90.9 C688.6 89.1 689.0 86.4 688.5 84.2 C688.0 82.0 686.6 79.5 685.1 77.5 C683.6 75.5 680.3 73.1 679.3 72.2 L644.5 53.4" stroke="#111" stroke-width="1.4" fill="#fff" stroke-linejoin="round" stroke-linecap="round"/>
<path d="M643.7 55.0 C646.4 56.5 654.4 60.9 660.0 64.0 C665.6 67.1 673.6 71.3 677.1 73.4 C680.6 75.5 680.2 75.7 681.3 76.7 C682.3 77.7 682.6 77.8 683.4 79.2 C684.2 80.6 685.5 83.3 685.9 85.1 C686.2 86.9 686.0 88.6 685.5 90.1 C685.0 91.6 683.5 93.2 682.6 94.2 C681.7 95.2 680.5 95.6 680.1 95.9" stroke="#111" stroke-width="1.2" fill="none" stroke-linejoin="round" stroke-linecap="round"/>
<path d="M670.5 77.5 L673.0 75.9 L681.8 81.7 L681.4 92.2 L679.3 93.4 L670.5 86.7 Z" stroke="#111" stroke-width="1.4" fill="none" stroke-linejoin="round" stroke-linecap="round"/>
<path d="M673.4 79.2 L680.1 83.8 L680.1 90.1 L673.4 85.5 Z" stroke="#111" stroke-width="1.2" fill="none" stroke-linejoin="round" stroke-linecap="round"/>
<path d="M670.5 86.7 L673.4 85.5" stroke="#111" stroke-width="1.2" fill="none" stroke-linejoin="round" stroke-linecap="round"/>
<path d="M679.3 93.4 L680.1 90.1" stroke="#111" stroke-width="1.2" fill="none" stroke-linejoin="round" stroke-linecap="round"/>
<path d="M670.5 77.5 L673.4 79.2" stroke="#111" stroke-width="1.2" fill="none" stroke-linejoin="round" stroke-linecap="round"/>
<path d="M645.3 90.7 C646.1 88.8 648.9 85.2 650.3 84.3 C651.7 83.4 652.3 84.5 653.9 85.4 C655.5 86.4 657.9 88.0 659.6 90.0 C661.3 92.0 663.1 95.2 663.9 97.2 C664.7 99.2 664.8 100.7 664.3 102.2 C663.8 103.8 662.4 105.6 661.1 106.5 C659.9 107.4 658.2 107.7 656.8 107.6 C655.4 107.5 653.9 106.9 652.5 105.8 C651.1 104.7 649.3 102.5 648.2 100.8 C647.1 99.1 646.2 97.4 645.7 95.7 C645.2 94.0 644.5 92.6 645.3 90.7 Z" stroke="#111" stroke-width="1.5" fill="#fff" stroke-linejoin="round" stroke-linecap="round"/>
<path d="M650.0 90.7 L653.2 89.7 L657.5 92.9 L660.3 97.9 L660.0 103.6 L657.5 105.0 L653.2 102.2 L650.3 97.2 Z" stroke="#111" stroke-width="2.2" fill="none" stroke-linejoin="round" stroke-linecap="round"/>
<path d="M655.3 87.9 C656.1 88.6 659.0 90.5 660.3 92.2 C661.5 93.9 662.3 96.0 662.8 97.9 C663.3 99.8 663.5 102.2 663.2 103.6 C662.9 105.0 661.5 106.0 661.1 106.5" stroke="#111" stroke-width="1.2" fill="none" stroke-linejoin="round" stroke-linecap="round"/>
<path d="M653.9 85.4 L655.0 88.2" stroke="#111" stroke-width="1.4" fill="none" stroke-linejoin="round" stroke-linecap="round"/>
<ellipse cx="698.7" cy="73.0" rx="7.5" ry="11.0" transform="rotate(-30 698.7 73.0)" stroke="#111" stroke-width="1.5" fill="#fff"/>
<ellipse cx="697.7" cy="73.6" rx="7.5" ry="11.0" transform="rotate(-30 697.7 73.6)" stroke="#111" stroke-width="1.5" fill="none"/>
<circle cx="696.2" cy="73.6" r="4.9" fill="none" stroke="#111" stroke-width="2.6" stroke-dasharray="1.7 1.1"/>
<circle cx="696.2" cy="73.6" r="4.0" fill="#111" stroke="none"/>
<path d="M690.8 72.7 L694.5 70.8 L696.0 78.0 L691.5 80.6 Z" stroke="#111" stroke-width="1.0" fill="#111" stroke-linejoin="round" stroke-linecap="round"/>
<ellipse cx="690.5" cy="76.8" rx="2.3" ry="3.7" transform="rotate(-30 690.5 76.8)" stroke="#111" stroke-width="1.7" fill="#fff"/>
</g>
</svg>
</body></html>
